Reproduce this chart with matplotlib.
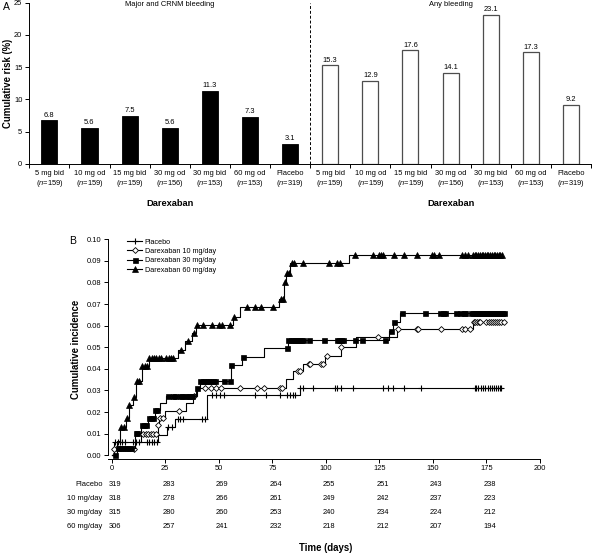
import numpy as np
import matplotlib
matplotlib.use("Agg")
import matplotlib.pyplot as plt
from matplotlib.transforms import blended_transform_factory

plt.rcParams['font.family'] = ['Liberation Sans', 'DejaVu Sans']
plt.rcParams['mathtext.fontset'] = 'custom'
plt.rcParams['mathtext.rm'] = 'Liberation Sans'
plt.rcParams['mathtext.it'] = 'Liberation Sans:italic'

# --- Panel A data ---
doses = ['5 mg bid', '10 mg od', '15 mg bid', '30 mg od', '30 mg bid', '60 mg od', 'Placebo']
n_pat = [159, 159, 159, 156, 153, 153, 319]
major_crnm = [6.8, 5.6, 7.5, 5.6, 11.3, 7.3, 3.1]
any_bleed = [15.3, 12.9, 17.6, 14.1, 23.1, 17.3, 9.2]

# --- Panel B data (step times / cumulative incidence, and marker days) ---
pl_t = [0, 1.0, 21.5, 26.0, 29.5, 44.5, 88.0]
pl_s = [0, 0.0063, 0.0096, 0.0133, 0.0167, 0.0278, 0.0313]
pl_m = [1.5, 3.1, 3.9, 4.7, 6.2, 10.1, 11.4, 12.9, 16.3, 17.6, 18.7, 19.8, 21.0,
        26.5, 28.0, 31.0, 32.0, 33.5, 42.0, 43.6,
        46.7, 48.8, 50.6, 52.5, 67.0, 72.0, 78.7, 82.0, 83.3, 84.6, 85.7,
        88.0, 89.5, 94.2, 104.3, 105.4, 107.0, 112.9, 126.9, 128.8, 131.3, 136.6, 144.4,
        169.5, 170.3, 171.0, 172.5, 173.5, 174.5, 175.5, 176.5, 177.5, 178.5, 179.5,
        180.5, 181.5, 182.0]

d10_t = [0, 1.0, 11.0, 13.5, 21.5, 22.3, 25.0, 34.5, 38.0, 39.7, 81.5, 84.8, 89.5,
         99.7, 107.0, 114.0, 133.0, 168.7]
d10_s = [0, 0.0031, 0.0063, 0.0098, 0.0138, 0.0172, 0.0207, 0.0240, 0.0276, 0.0310,
         0.0352, 0.0390, 0.0423, 0.0461, 0.0503, 0.0546, 0.0583, 0.0619]
d10_m = [1.1, 10.4, 14.8, 16.0, 17.1, 18.2, 19.5, 20.7, 21.6, 22.6, 23.8, 31.5, 38.3,
         43.6, 46.4, 48.6, 51.0, 60.0, 67.8, 71.2, 78.7, 79.4, 86.9, 87.7, 91.9, 92.7,
         97.7, 98.6, 100.5, 107.0, 124.2, 133.9, 142.5, 143.0, 154.0, 163.6, 165.1, 167.4,
         169.0, 169.8, 170.6, 171.4, 172.2, 175.0, 176.0, 177.0, 178.0, 179.0, 180.0,
         181.0, 182.0, 183.0]

d30_t = [0, 2.3, 10.8, 13.8, 16.9, 20.0, 22.6, 25.4, 39.5, 41.0, 55.6, 60.7, 70.9,
         82.2, 129.5, 131.5, 134.7]
d30_s = [0, 0.0032, 0.0102, 0.0140, 0.0174, 0.0210, 0.0243, 0.0276, 0.0310, 0.0344,
         0.0418, 0.0457, 0.0495, 0.0534, 0.0577, 0.0619, 0.0657]
d30_m = [1.6, 3.0, 4.0, 5.0, 6.0, 7.0, 8.0, 9.0, 11.4, 12.0, 14.0, 15.0, 16.0, 17.2,
         18.4, 19.5, 20.2, 21.2, 26.5, 28.8, 29.6, 31.8, 33.0, 34.2, 35.4, 36.6, 37.4,
         39.7, 41.3, 42.5, 43.7, 44.9, 46.1, 47.3, 48.3, 52.2, 55.3, 55.8, 61.5, 81.8,
         82.5, 83.5, 84.5, 85.5, 86.5, 87.5, 88.5, 89.5, 91.9, 98.9, 105.1, 106.2, 107.2,
         108.2, 113.7, 116.8, 127.7, 130.3, 131.9, 135.7, 146.4, 153.4, 154.6, 155.8,
         161.0, 162.5, 164.3, 165.1, 168.0, 168.8, 169.6, 170.4, 171.2, 172.0, 172.8,
         173.6, 174.4, 175.2, 176.0, 176.8, 177.6, 178.4, 179.2, 180.0, 180.8, 181.6,
         182.4, 183.0]

d60_t = [0, 2.5, 4.0, 6.5, 8.0, 10.0, 11.2, 14.0, 17.2, 31.0, 34.3, 37.4, 39.3, 56.5,
         59.7, 78.3, 80.5, 81.5, 83.3, 110.6]
d60_s = [0, 0.0066, 0.0133, 0.0171, 0.0232, 0.0272, 0.0342, 0.0414, 0.0450, 0.0488,
         0.0529, 0.0568, 0.0603, 0.0639, 0.0685, 0.0722, 0.0804, 0.0845, 0.0890, 0.0928]
d60_m = [4.4, 5.5, 7.0, 8.1, 10.4, 11.6, 12.6, 14.2, 15.4, 16.7, 17.6, 18.8, 19.9,
         20.7, 21.9, 23.0, 25.4, 26.6, 27.7, 28.8, 32.2, 35.5, 38.5, 39.7, 42.5, 46.7,
         50.3, 51.4, 55.3, 57.2, 63.4, 66.7, 69.6, 75.5, 79.0, 79.9, 80.8, 81.8, 82.9,
         84.1, 85.3, 89.5, 101.5, 105.4, 106.7, 113.7, 121.8, 124.6, 125.6, 126.9, 131.6,
         136.6, 142.5, 149.6, 150.5, 152.9, 163.6, 165.0, 166.6, 168.7, 169.5, 170.3,
         171.1, 171.9, 172.7, 173.5, 174.3, 175.1, 175.9, 176.7, 177.5, 178.3, 179.1,
         179.9, 180.7, 181.5, 182.3]

# number at risk table
risk_days = [0, 25, 50, 75, 100, 125, 150, 175]
risk_rows = ['Placebo', '10 mg/day', '30 mg/day', '60 mg/day']
risk_pl = [319, 283, 269, 264, 255, 251, 243, 238]
risk_10 = [318, 278, 266, 261, 249, 242, 237, 223]
risk_30 = [315, 280, 260, 253, 240, 234, 224, 212]
risk_60 = [306, 257, 241, 232, 218, 212, 207, 194]

FS = 5.4
W, H = 592, 554
fig = plt.figure(figsize=(W / 100, H / 100), dpi=100)

################ PANEL A ################
axA = fig.add_axes([29.3 / W, 1 - 164 / H, (591 - 29.3) / W, (164 - 2.7) / H])
nd = len(doses)
xL = np.arange(nd)
xR = np.arange(nd) + nd
axA.bar(xL, major_crnm, width=0.4, color='black', edgecolor='black', lw=0.6)
axA.bar(xR, any_bleed, width=0.4, color='white', edgecolor='0.3', lw=0.9)
for x, v in zip(xL, major_crnm):
    axA.text(x, v + 0.25, f'{v:.1f}', ha='center', va='bottom', fontsize=FS)
for x, v in zip(xR, any_bleed):
    axA.text(x, v + 0.25, f'{v:.1f}', ha='center', va='bottom', fontsize=FS)
axA.axvline(nd - 0.5, color='black', ls=(0, (3, 2)), lw=0.7)
axA.set_xlim(-0.5, 2 * nd - 0.5)
axA.set_ylim(0, 25)
axA.set_yticks([0, 5, 10, 15, 20, 25])
axA.set_xticks(np.arange(2 * nd + 1) - 0.5)
axA.set_xticklabels([])
cat_labels = [f'{d}\n($\\it{{n}}$={n})' for d, n in zip(doses, n_pat)] * 2
axA.set_xticks(np.arange(2 * nd), minor=True)
axA.set_xticklabels(cat_labels, minor=True, fontsize=FS, linespacing=1.25)
axA.tick_params(axis='x', which='minor', length=0, pad=4)
axA.tick_params(axis='x', which='major', length=3, width=0.7)
axA.tick_params(axis='y', length=3, width=0.7, labelsize=FS, pad=2)
for s in ['top', 'right']:
    axA.spines[s].set_visible(False)
axA.spines['left'].set_linewidth(0.7)
axA.spines['bottom'].set_linewidth(0.7)
trA = blended_transform_factory(axA.transData, fig.transFigure)
axA.text(3, 1 - 4.5 / H, 'Major and CRNM bleeding', transform=trA, ha='center',
         va='center', fontsize=FS)
axA.text(10, 1 - 4.5 / H, 'Any bleeding', transform=trA, ha='center', va='center',
         fontsize=FS)
fig.text(3.0 / W, 1 - 7 / H, 'A', fontsize=7.5, ha='left', va='center')
fig.text(8 / W, 1 - 83 / H, 'Cumulative risk (%)', rotation=90, fontsize=6.9,
         fontweight='bold', ha='center', va='center')
axA.text(3, 1 - 203 / H, 'Darexaban', transform=trA, ha='center', va='center',
         fontsize=6.7, fontweight='bold')
axA.text(10, 1 - 203 / H, 'Darexaban', transform=trA, ha='center', va='center',
         fontsize=6.7, fontweight='bold')

################ PANEL B ################
axB = fig.add_axes([108.3 / W, 1 - 458.5 / H, (540 - 108.3) / W, (458.5 - 239.3) / H])
series = [
    ('Placebo', pl_t, pl_s, pl_m, dict(marker='+', ms=4.5, mew=0.8, mfc='black')),
    ('Darexaban 10 mg/day', d10_t, d10_s, d10_m, dict(marker='D', ms=3.0, mew=0.6, mfc='white')),
    ('Darexaban 30 mg/day', d30_t, d30_s, d30_m, dict(marker='s', ms=3.6, mew=0.5, mfc='black')),
    ('Darexaban 60 mg/day', d60_t, d60_s, d60_m, dict(marker='^', ms=4.0, mew=0.5, mfc='black')),
]
handles = []
for name, t, s, m, mk in series:
    t = np.array(t)
    s = np.array(s)
    m = np.array(m)
    t_full = np.append(t, m.max())
    s_full = np.append(s, s[-1])
    axB.step(t_full, s_full, where='post', color='black', lw=0.8)
    idx = np.searchsorted(t, m, side='right') - 1
    axB.plot(m, s[idx], ls='none', mec='black', **mk)
    h, = axB.plot([], [], color='black', lw=0.8, mec='black', label=name, **mk)
    handles.append(h)

axB.set_xlim(-1.6, 200)
axB.set_ylim(-0.0015, 0.10)
axB.set_xticks(np.arange(0, 201, 25))
axB.set_yticks(np.arange(0, 0.101, 0.01))
axB.set_yticklabels([f'{v:.2f}' for v in np.arange(0, 0.101, 0.01)])
axB.tick_params(length=3, width=0.7, labelsize=FS, pad=2)
for s in ['top', 'right']:
    axB.spines[s].set_visible(False)
axB.spines['left'].set_linewidth(0.7)
axB.spines['bottom'].set_linewidth(0.7)
axB.spines['left'].set_bounds(0, 0.10)
axB.spines['bottom'].set_bounds(-1.6, 200)
axB.legend(handles=handles, loc='upper left', bbox_to_anchor=(127 / W, 1 - 238.5 / H),
           bbox_transform=fig.transFigure, frameon=False, fontsize=5.2, borderpad=0,
           borderaxespad=0, handlelength=2.1, handletextpad=0.35, labelspacing=0.32)
axB.set_ylabel('Cumulative incidence', fontsize=6.9, fontweight='bold', labelpad=4)
fig.text(73 / W, 1 - 240.7 / H, 'B', fontsize=7.5, ha='center', va='center')

# number at risk
trB = blended_transform_factory(axB.transData, fig.transFigure)
row_y = [484, 498.5, 512, 526]
for lab, vals, py in zip(risk_rows, [risk_pl, risk_10, risk_30, risk_60], row_y):
    fig.text(102.5 / W, 1 - py / H, lab, ha='right', va='center', fontsize=FS)
    for d, v in zip(risk_days, vals):
        axB.text(d + 1.5, 1 - py / H, str(v), transform=trB, ha='center', va='center',
                 fontsize=FS)
axB.text(100, 1 - 548 / H, 'Time (days)', transform=trB, ha='center', va='center',
         fontsize=6.9, fontweight='bold')

plt.savefig('out.png', dpi=100)
